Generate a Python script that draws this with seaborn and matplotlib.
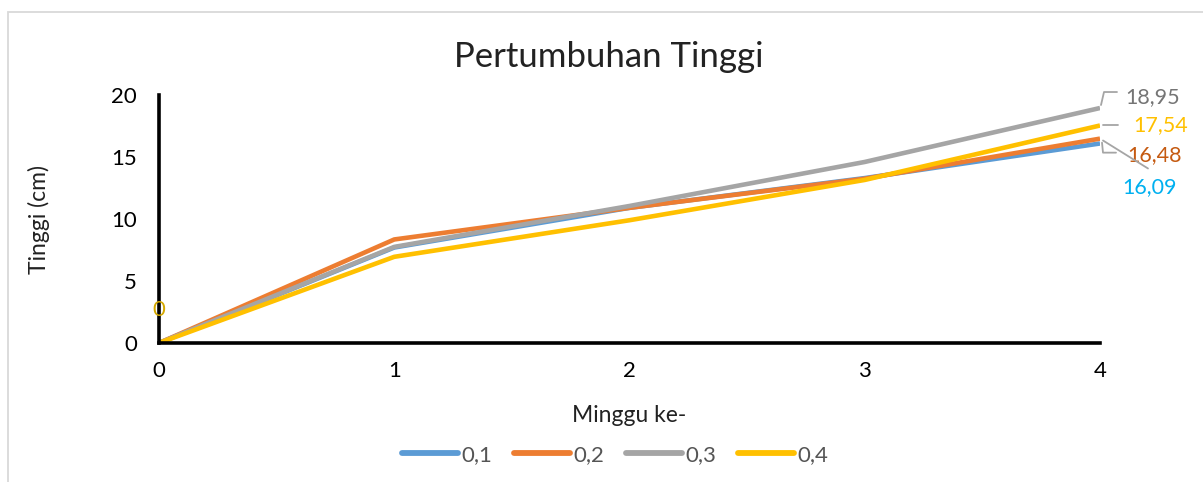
import numpy as np
import pandas as pd
import matplotlib
matplotlib.use("Agg")
import matplotlib.pyplot as plt
import matplotlib.transforms as mtransforms
from matplotlib.lines import Line2D
from matplotlib.patches import Rectangle
import seaborn as sns

weeks = [0, 1, 2, 3, 4]
series_names = ["0,1", "0,2", "0,3", "0,4"]
s01 = [0, 7.7, 10.9, 13.3, 16.09]
s02 = [0, 8.35, 10.9, 13.25, 16.48]
s03 = [0, 7.75, 11.05, 14.6, 18.95]
s04 = [0, 6.95, 9.9, 13.15, 17.54]
end_labels = ["16,09", "16,48", "18,95", "17,54"]

line_colors = ["#5B9BD5", "#ED7D31", "#A5A5A5", "#FFC000"]
label_colors = ["#00B0F0", "#C55A11", "#757575", "#FFC000"]

df = pd.DataFrame({
    "Minggu": weeks * 4,
    "Tinggi": s01 + s02 + s03 + s04,
    "Seri": sum([[n] * len(weeks) for n in series_names], []),
})

sns.set_theme(style="white")
plt.rcParams["font.family"] = ["Lato", "DejaVu Sans"]

fig = plt.figure(figsize=(12.03, 4.82), dpi=100)
ax = fig.add_axes([159 / 1203, 1 - 343 / 482, (1100 - 159) / 1203, (343 - 95) / 482])

sns.lineplot(data=df, x="Minggu", y="Tinggi", hue="Seri", hue_order=series_names,
             palette=line_colors, linewidth=3.3, ax=ax, legend=False,
             solid_capstyle="butt")

ax.set_xlim(0, 4)
ax.set_ylim(0, 20)
ax.set_xticks(weeks)
ax.set_yticks([0, 5, 10, 15, 20])
ax.tick_params(axis="both", length=0, labelsize=16, colors="black", pad=13)
ax.tick_params(axis="y", pad=16)
for side in ["top", "right"]:
    ax.spines[side].set_visible(False)
for side in ["left", "bottom"]:
    ax.spines[side].set_color("black")
    ax.spines[side].set_linewidth(2.6)

ax.set_xlabel("Minggu ke-", fontsize=16.5, labelpad=17, color="#222222")
ax.set_ylabel("Tinggi (cm)", fontsize=16.5, labelpad=44, color="#222222")
fig.text(609 / 1203, 1 - 57 / 482, "Pertumbuhan Tinggi", fontsize=25,
         ha="center", va="center", color="#222222")

# value label at origin
ax.text(0, 2.65, "0", color="#D4A800", fontsize=16, ha="center", va="center")

# end labels with leader lines
fig.canvas.draw()
offsets = {
    "0,1": ((22, -44), [(3, 3), (48, -25)]),
    "0,2": ((27, -16), [(2, -4), (3, -14), (16, -14)]),
    "0,3": ((25, 11), [(1, 3), (4, 16), (17, 16)]),
    "0,4": ((33, 0), [(3, 1), (18, 1)]),
}
vals = {"0,1": s01[-1], "0,2": s02[-1], "0,3": s03[-1], "0,4": s04[-1]}
for name, lab, col in zip(series_names, end_labels, label_colors):
    (dx, dy), pts = offsets[name]
    bx, by = ax.transData.transform((weeks[-1], vals[name]))
    xs = [bx + p[0] for p in pts]
    ys = [by + p[1] for p in pts]
    fig.add_artist(Line2D(xs, ys, color="#A5A5A5", linewidth=1.3,
                          transform=mtransforms.IdentityTransform()))
    ax.annotate(lab, xy=(weeks[-1], vals[name]), xytext=(dx, dy),
                textcoords="offset pixels", ha="left", va="center",
                fontsize=15.5, color=col, annotation_clip=False)

handles = [Line2D([0], [0], color=c, linewidth=4.2, solid_capstyle="round")
           for c in line_colors]
fig.legend(handles, series_names, loc="center", ncol=4,
           bbox_to_anchor=(615 / 1203, 1 - 455 / 482), frameon=False,
           fontsize=16, handlelength=2.5, handletextpad=0.15, columnspacing=1.0,
           labelcolor="#555555")

fig.add_artist(Rectangle((8 / 1203, -0.2), 1.2, (482 - 12) / 482 + 0.2,
                         transform=fig.transFigure, fill=False,
                         edgecolor="#D9D9D9", linewidth=1.3))

fig.savefig("out.png", dpi=100)
